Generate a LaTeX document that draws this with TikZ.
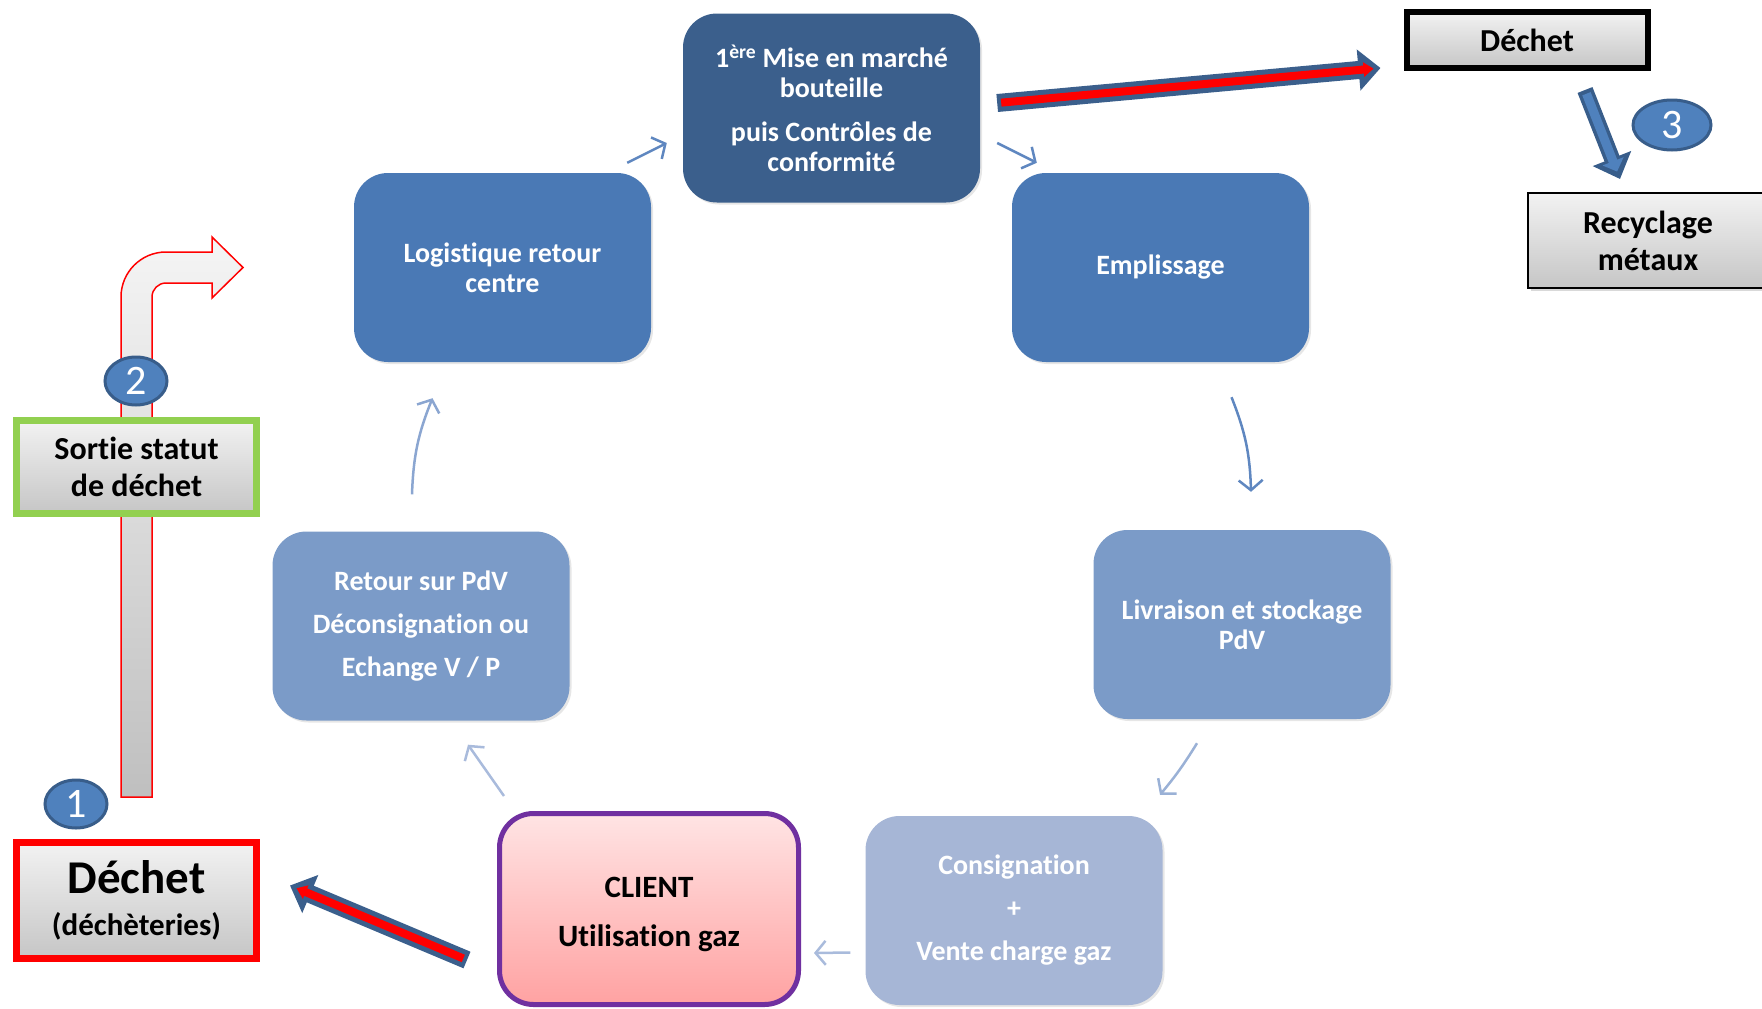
\documentclass[tikz,border=0pt]{standalone}
\usepackage{fontspec}
\setmainfont[Ligatures=CommonOff]{Carlito}
\usetikzlibrary{arrows.meta, positioning, shapes.geometric, shadows, calc}

\definecolor{darkbox}{HTML}{3B5F8C}
\definecolor{midbox}{HTML}{4A79B5}
\definecolor{lightbox}{HTML}{7B9BC8}
\definecolor{palebox}{HTML}{A6B6D6}
\definecolor{flowmid}{HTML}{5F87C0}
\definecolor{flowlight}{HTML}{A9BBDC}
\definecolor{badgefill}{HTML}{4F81BD}
\definecolor{badgeline}{HTML}{385D8A}
\definecolor{clientline}{HTML}{7030A0}
\definecolor{clienttop}{HTML}{FFE4E4}
\definecolor{clientbot}{HTML}{FFA2A2}
\definecolor{greenline}{HTML}{92D050}

\begin{document}
\begin{tikzpicture}[x=1pt, y=-1pt,
    stage/.style={rectangle, rounded corners=34pt, minimum width=297pt, minimum height=189pt,
        text=white, align=center, font=\bfseries\fontsize{28}{30}\selectfont,
        drop shadow={opacity=0.2, shadow xshift=2pt, shadow yshift=-2pt}},
    greybox/.style={rectangle, top color=gray!10, bottom color=gray!45, align=center,
        font=\bfseries\fontsize{32}{37}\selectfont, inner sep=0pt,
        drop shadow={opacity=0.3, shadow xshift=3pt, shadow yshift=-3pt}},
    badge/.style={ellipse, fill=badgefill, draw=badgeline, line width=3pt, text=white,
        minimum width=62pt, minimum height=48pt, inner sep=0pt, font=\fontsize{42}{42}\selectfont},
    flow/.style={-{Straight Barb[length=10pt, width=24pt]}, line width=2.5pt},
    bigarrow/.style={line width=18pt, draw=darkbox, -{Triangle[length=22pt, width=40pt]}},
    redcore/.style={line width=8pt, draw=red, -{Triangle[length=10pt, width=14pt]},
        shorten >=7pt, shorten <=4pt},
    bluecore/.style={line width=9pt, draw=badgefill, -{Triangle[length=11pt, width=22pt]},
        shorten >=8pt, shorten <=4pt}
]
    \useasboundingbox (0,0) rectangle (1762,1009);

    % Bent arrow behind the left boxes
    \path[draw=red, line width=1.5pt, top color=gray!8, bottom color=gray!50]
        (121,797) -- (121,297) arc[start angle=180, end angle=90, radius=45pt]
        -- (212,252) -- (212,237) -- (243,267.5) -- (212,298) -- (212,283) -- (166,283)
        arc[start angle=90, end angle=180, radius=14pt] -- (152,797) -- cycle;

    % Cycle
    \node[stage, fill=darkbox] (premiere) at (831.5,108)
        {1\textsuperscript{ère} Mise en marché\\bouteille\\[14pt]puis Contrôles de\\conformité};
    \node[stage, fill=midbox] (logist) at (502.5,267.5) {Logistique retour\\centre};
    \node[stage, fill=midbox] (empl) at (1160.5,267.5) {Emplissage};
    \node[stage, fill=lightbox] (livr) at (1242,624.5) {Livraison et stockage\\PdV};
    \node[stage, fill=palebox, font=\bfseries\fontsize{28}{43}\selectfont] (consign) at (1014,910.5)
        {Consignation\\+\\Vente charge gaz};
    \node[stage, draw=clientline, line width=5pt, top color=clienttop, bottom color=clientbot,
        text=black, minimum width=299pt, minimum height=191pt,
        font=\bfseries\fontsize{31}{49}\selectfont] (client) at (649,909)
        {\rule{0pt}{31pt}CLIENT\\Utilisation gaz};
    \node[stage, fill=lightbox, font=\bfseries\fontsize{28}{43}\selectfont] (retour) at (421,626)
        {Retour sur PdV\\Déconsignation ou\\Echange V / P};

    % Waste boxes
    \node[greybox, draw=red, line width=7pt, minimum width=240pt, minimum height=116pt] (dechetA)
        at (136.5,900.5) {{\fontsize{47}{50}\selectfont Déchet}\\[5pt]{\fontsize{31}{37}\selectfont(déchèteries)}};
    \node[greybox, draw=greenline, line width=7pt, minimum width=240pt, minimum height=93pt] (sortie)
        at (136.5,467) {Sortie statut\\de déchet};
    \node[greybox, draw=black, line width=6pt, minimum width=241pt, minimum height=56pt] (dechetB)
        at (1527,40) {Déchet};
    \node[greybox, draw=black, line width=2pt, minimum width=240pt, minimum height=95pt] (recyc)
        at (1648,240.5) {Recyclage\\métaux};

    % Badges
    \node[badge] (one) at (76,804) {1};
    \node[badge] (two) at (136,381) {2};
    \node[badge, minimum width=78pt, minimum height=50pt] (three) at (1672,125) {3};

    % Connections
    \coordinate (lp1) at ($(logist.north east)+(-24,-10)$);
    \coordinate (lp2) at ($(premiere.west)+(-16,35)$);
    \coordinate (pe1) at ($(premiere.east)+(17,35)$);
    \coordinate (pe2) at ($(empl.north west)+(25,-10)$);
    \coordinate (el1) at ($(empl.south)+(71,35)$);
    \coordinate (el2) at ($(livr.north)+(9,-38)$);
    \coordinate (lc1) at ($(livr.south)+(-45,24)$);
    \coordinate (lc2) at ($(consign.north)+(146,-21)$);
    \coordinate (cc1) at ($(consign.west)+(-15,42)$);
    \coordinate (cc2) at ($(client.east)+(13,44)$);
    \coordinate (cr1) at ($(client.north)+(-145,-15)$);
    \coordinate (cr2) at ($(retour.south)+(47,24)$);
    \coordinate (rl1) at ($(retour.north)+(-9,-37)$);
    \coordinate (rl2) at ($(logist.south)+(-70,36)$);

    \draw[flow, flowmid] (lp1) -- (lp2);
    \draw[flow, flowmid] (pe1) -- (pe2);
    \draw[flow, flowmid] (el1) to[bend left=10] (el2);
    \draw[flow, flowlight!80!flowmid] (lc1) to[bend left=4] (lc2);
    \draw[flow, flowlight] (cc1) -- (cc2);
    \draw[flow, flowlight] (cr1) -- (cr2);
    \draw[flow, flowlight!60!flowmid] (rl1) to[bend left=10] (rl2);

    \coordinate (rt1) at ($(client.west)+(-30,51)$);
    \coordinate (rt2) at ($(dechetA.east)+(30,-15)$);
    \coordinate (tt1) at ($(premiere.east)+(17,-5)$);
    \coordinate (tt2) at ($(dechetB.west)+(-23,28)$);
    \coordinate (dt1) at ($(dechetB.south)+(58,19)$);
    \coordinate (dt2) at ($(recyc.north)+(-28,-13)$);

    \draw[bigarrow] (rt1) -- (rt2);
    \draw[redcore] (rt1) -- (rt2);
    \draw[bigarrow] (tt1) -- (tt2);
    \draw[redcore] (tt1) -- (tt2);
    \draw[bigarrow, line width=16pt, draw=badgeline] (dt1) -- (dt2);
    \draw[bluecore] (dt1) -- (dt2);
\end{tikzpicture}
\end{document}
